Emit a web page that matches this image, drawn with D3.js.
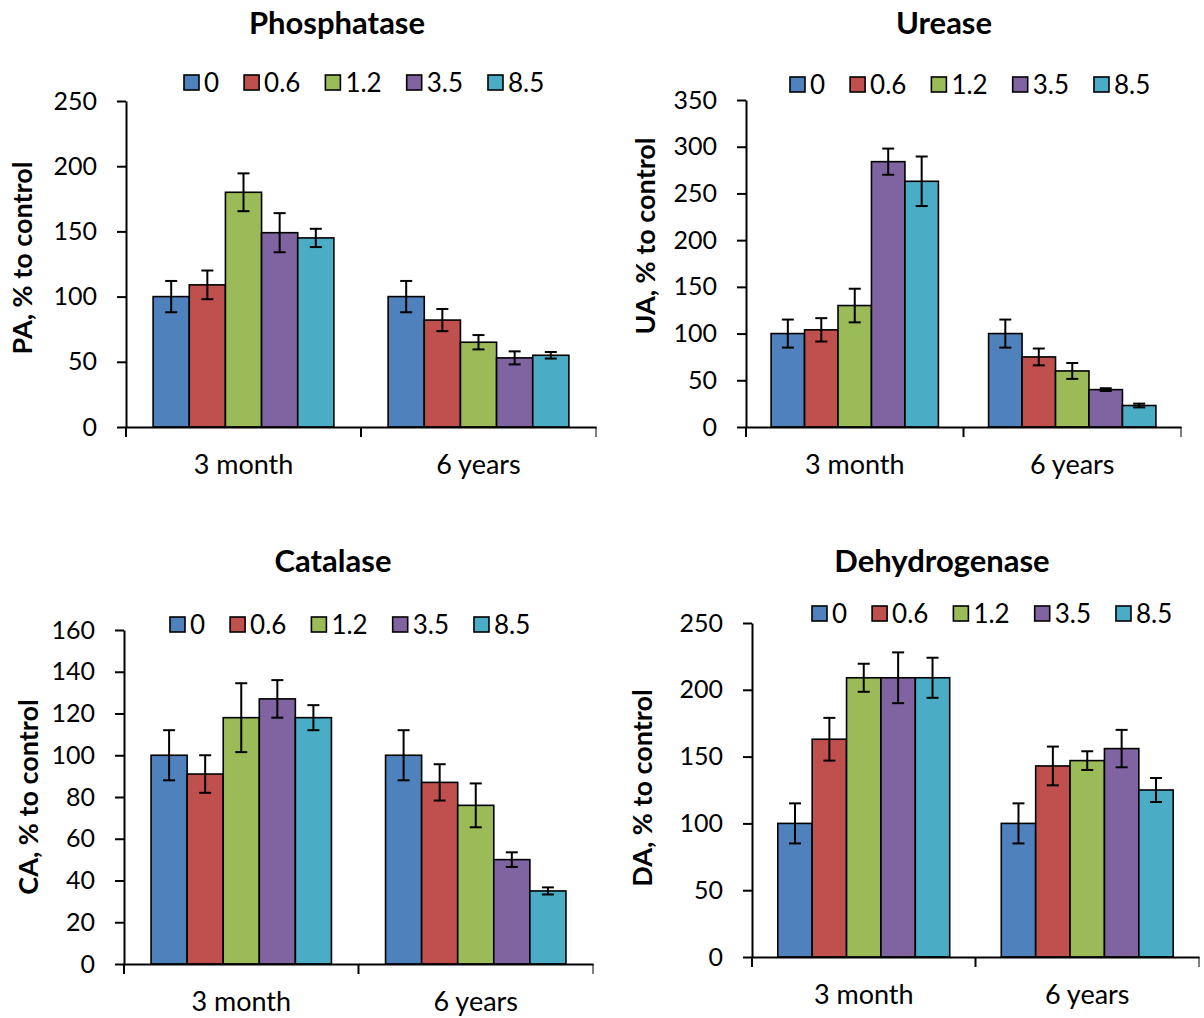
<!DOCTYPE html>
<html>
<head>
<meta charset="utf-8">
<script src="https://cdn.jsdelivr.net/npm/d3@7"></script>
<style>
  body { margin: 0; background: #fff; }
  svg text { font-family: Lato, "Open Sans", sans-serif; fill: #000; }
</style>
</head>
<body>
<svg id="chart" width="1204" height="1018"></svg>
<script>
const categories = ["3 month", "6 years"];
const doses = ["0", "0.6", "1.2", "3.5", "8.5"];
const doseColors = ["#4F81BD", "#C0504D", "#9BBB59", "#8064A2", "#4BACC6"];

// mean values [3 month, 6 years] x dose, and error bar half-widths
const paMean = [[100, 109, 180, 149, 145], [100, 82, 65, 53, 55]];
const paErr  = [[12, 11, 14.5, 15, 7], [12, 8.5, 5.5, 5, 2.5]];
const uaMean = [[100, 104, 130, 284, 263], [100, 75, 60, 40, 23]];
const uaErr  = [[15, 12.5, 18, 14, 26.5], [15, 9, 8.5, 1.5, 2]];
const caMean = [[100, 91, 118, 127, 118], [100, 87, 76, 50, 35]];
const caErr  = [[12, 9, 16.5, 9, 6], [12, 8.7, 10.5, 3.5, 1.7]];
const daMean = [[100, 163, 209, 209, 209], [100, 143, 147, 156, 125]];
const daErr  = [[15, 16, 10.5, 19, 15], [15, 14.5, 7, 14, 9]];

const paTicks = [0, 50, 100, 150, 200, 250];
const uaTicks = [0, 50, 100, 150, 200, 250, 300, 350];
const caTicks = [0, 20, 40, 60, 80, 100, 120, 140, 160];
const daTicks = [0, 50, 100, 150, 200, 250];

const panels = [
  { title: "Phosphatase", yLabel: "PA, % to control", mean: paMean, err: paErr, ticks: paTicks,
    x0: 126, x1: 596, yBase: 427, yTop: 101, titleX: 337, titleY: 34,
    legendX: 184, legendY: 83, labelX: 32, labelY: 258 },
  { title: "Urease", yLabel: "UA, % to control", mean: uaMean, err: uaErr, ticks: uaTicks,
    x0: 746, x1: 1181, yBase: 427, yTop: 100, titleX: 944, titleY: 34,
    legendX: 790, legendY: 85, labelX: 655, labelY: 236 },
  { title: "Catalase", yLabel: "CA, % to control", mean: caMean, err: caErr, ticks: caTicks,
    x0: 124, x1: 593, yBase: 964, yTop: 630, titleX: 333, titleY: 572,
    legendX: 170, legendY: 625, labelX: 38, labelY: 797 },
  { title: "Dehydrogenase", yLabel: "DA, % to control", mean: daMean, err: daErr, ticks: daTicks,
    x0: 752, x1: 1199, yBase: 957, yTop: 623, titleX: 942, titleY: 572,
    legendX: 812, legendY: 614, labelX: 652, labelY: 788 }
];

const svg = d3.select("#chart");

panels.forEach(p => {
  const g = svg.append("g");

  const x = d3.scaleBand()
    .domain(categories)
    .range([p.x0, p.x1])
    .paddingInner(0)
    .paddingOuter(0);
  // Excel-like gap width 150%: 5 bars + 1.5 bar widths of gap per category
  const bw = x.bandwidth() / 6.5;
  const xs = d3.scaleBand()
    .domain(doses)
    .range([0.75 * bw, x.bandwidth() - 0.75 * bw]);

  const y = d3.scaleLinear()
    .domain([0, d3.max(p.ticks)])
    .range([p.yBase, p.yTop]);

  // title
  g.append("text")
    .attr("x", p.titleX)
    .attr("y", p.titleY)
    .attr("text-anchor", "middle")
    .style("font-size", "31px")
    .style("font-weight", "bold")
    .text(p.title);

  // bars
  const cat = g.selectAll("g.cat")
    .data(categories)
    .enter().append("g")
    .attr("class", "cat")
    .attr("transform", c => `translate(${x(c)},0)`);

  cat.selectAll("rect")
    .data((c, ci) => doses.map((d, i) => ({ dose: d, i, v: p.mean[ci][i], e: p.err[ci][i] })))
    .enter().append("rect")
    .attr("x", d => xs(d.dose))
    .attr("y", d => y(d.v))
    .attr("width", xs.bandwidth())
    .attr("height", d => y(0) - y(d.v))
    .attr("fill", d => doseColors[d.i])
    .attr("stroke", "#000")
    .attr("stroke-width", 1.6);

  // error bars
  const eb = cat.selectAll("g.err")
    .data((c, ci) => doses.map((d, i) => ({ dose: d, v: p.mean[ci][i], e: p.err[ci][i] })))
    .enter().append("g")
    .attr("class", "err")
    .attr("stroke", "#000")
    .attr("stroke-width", 2);
  const cx = d => xs(d.dose) + xs.bandwidth() / 2;
  eb.append("line")
    .attr("x1", cx).attr("x2", cx)
    .attr("y1", d => y(d.v + d.e)).attr("y2", d => y(d.v - d.e));
  eb.append("line")
    .attr("x1", d => cx(d) - 6).attr("x2", d => cx(d) + 6)
    .attr("y1", d => y(d.v + d.e)).attr("y2", d => y(d.v + d.e));
  eb.append("line")
    .attr("x1", d => cx(d) - 6).attr("x2", d => cx(d) + 6)
    .attr("y1", d => y(d.v - d.e)).attr("y2", d => y(d.v - d.e));

  // y axis
  const yAxis = g.append("g")
    .attr("transform", `translate(${p.x0},0)`)
    .call(d3.axisLeft(y).tickValues(p.ticks).tickSize(9).tickSizeOuter(0).tickPadding(20));
  yAxis.selectAll("text").style("font-size", "25px");

  // x axis with ticks at category boundaries
  const xAxis = g.append("g")
    .attr("transform", `translate(0,${p.yBase})`)
    .call(d3.axisBottom(x).tickSize(0).tickPadding(28).tickSizeOuter(0));
  xAxis.selectAll("text").style("font-size", "27px");
  xAxis.selectAll(".tick")
    .data(categories)
    .append("line")
    .attr("stroke", "#000")
    .attr("x1", -x.bandwidth() / 2).attr("x2", -x.bandwidth() / 2)
    .attr("y1", 0).attr("y2", 10);
  xAxis.append("line")
    .attr("stroke", "#000")
    .attr("x1", p.x1).attr("x2", p.x1)
    .attr("y1", 0).attr("y2", 10);

  g.selectAll(".domain").attr("stroke", "#000").attr("stroke-width", 2);
  g.selectAll(".tick line").attr("stroke", "#000").attr("stroke-width", 2);

  // y axis title
  g.append("text")
    .attr("transform", `translate(${p.labelX},${p.labelY}) rotate(-90)`)
    .attr("text-anchor", "middle")
    .style("font-size", "27px")
    .style("font-weight", "bold")
    .text(p.yLabel);

  // legend
  const leg = g.append("g")
    .attr("transform", `translate(${p.legendX},${p.legendY})`);
  let lx = 0;
  doses.forEach((d, i) => {
    const item = leg.append("g").attr("transform", `translate(${lx},0)`);
    item.append("rect")
      .attr("x", 0).attr("y", -8)
      .attr("width", 15).attr("height", 15)
      .attr("fill", doseColors[i])
      .attr("stroke", "#000")
      .attr("stroke-width", 1.6);
    const t = item.append("text")
      .attr("x", 20).attr("y", 9)
      .style("font-size", "26px")
      .text(d);
    lx += 20 + t.node().getComputedTextLength() + 25;
  });
});
</script>
</body>
</html>
